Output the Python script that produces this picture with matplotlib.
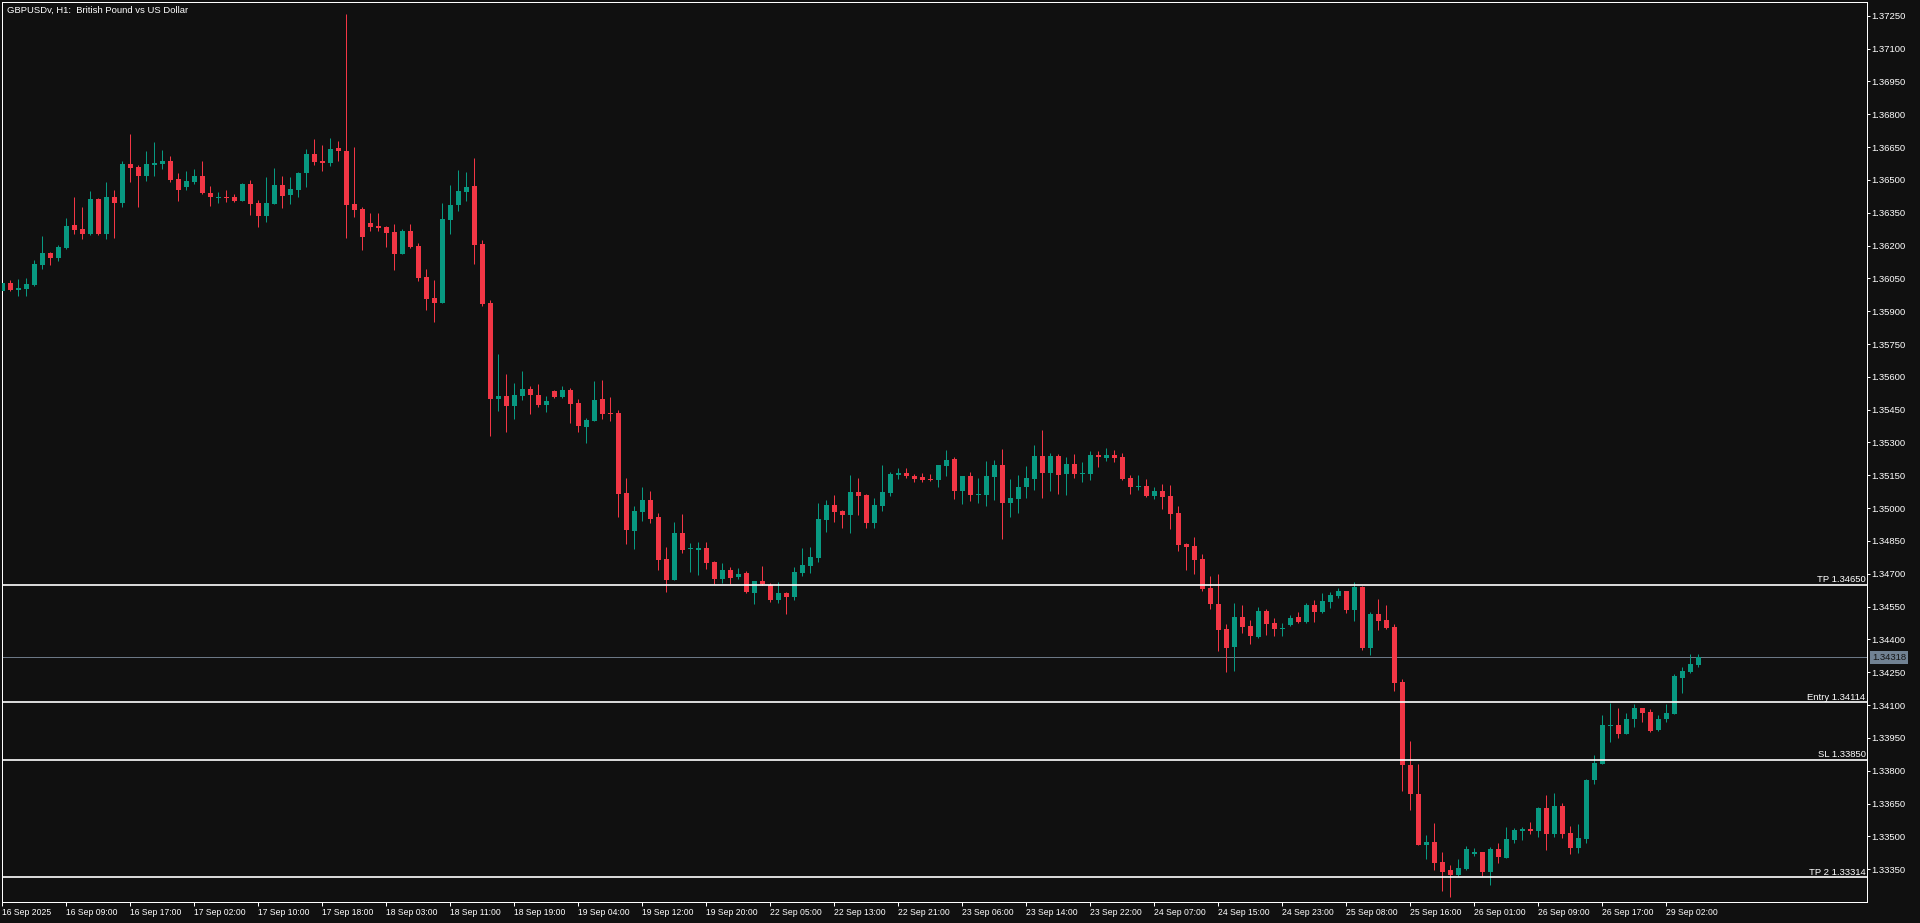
import matplotlib
matplotlib.use("Agg")
import matplotlib.pyplot as plt
import matplotlib.transforms as mtransforms
import numpy as np

# GBPUSDv H1 candles, 16 Sep 2025 -> 29 Sep 2025 06:00
title = "GBPUSDv, H1:  British Pound vs US Dollar"

opens = [
    1.35993, 1.36029, 1.35997, 1.36002, 1.36020, 1.36111, 1.36166, 1.36143, 1.36189, 1.36294,
    1.36275, 1.36253, 1.36413, 1.36253, 1.36422, 1.36394, 1.36573, 1.36559, 1.36518, 1.36568,
    1.36573, 1.36587, 1.36504, 1.36468, 1.36491, 1.36518, 1.36440, 1.36418, 1.36422, 1.36422,
    1.36403, 1.36482, 1.36394, 1.36335, 1.36390, 1.36477, 1.36431, 1.36454, 1.36532, 1.36619,
    1.36587, 1.36578, 1.36646, 1.36632, 1.36390, 1.36367, 1.36303, 1.36289, 1.36285, 1.36262,
    1.36162, 1.36266, 1.36198, 1.36057, 1.35961, 1.35937, 1.36317, 1.36385, 1.36445, 1.36472,
    1.36207, 1.35937, 1.35499, 1.35513, 1.35467, 1.35513, 1.35545, 1.35517, 1.35471, 1.35536,
    1.35508, 1.35540, 1.35480, 1.35371, 1.35398, 1.35499, 1.35435, 1.35435, 1.35069, 1.34895,
    1.34982, 1.35037, 1.34959, 1.34768, 1.34672, 1.34886, 1.34813, 1.34809, 1.34818, 1.34754,
    1.34676, 1.34718, 1.34686, 1.34704, 1.34612, 1.34667, 1.34649, 1.34580, 1.34612, 1.34594,
    1.34704, 1.34736, 1.34772, 1.34946, 1.35014, 1.34987, 1.34968, 1.35074, 1.35060, 1.34932,
    1.35010, 1.35069, 1.35152, 1.35161, 1.35147, 1.35143, 1.35133, 1.35129, 1.35193, 1.35225,
    1.35078, 1.35147, 1.35060, 1.35060, 1.35143, 1.35197, 1.35023, 1.35042, 1.35097, 1.35133,
    1.35239, 1.35161, 1.35239, 1.35156, 1.35202, 1.35156, 1.35156, 1.35243, 1.35229, 1.35243,
    1.35234, 1.35138, 1.35097, 1.35101, 1.35055, 1.35078, 1.35055, 1.34977, 1.34836, 1.34827,
    1.34768, 1.34635, 1.34562, 1.34447, 1.34365, 1.34502, 1.34461, 1.34411, 1.34530, 1.34475,
    1.34447, 1.34466, 1.34502, 1.34480, 1.34557, 1.34525, 1.34571, 1.34598, 1.34621, 1.34534,
    1.34640, 1.34361, 1.34516, 1.34489, 1.34457, 1.34205, 1.33826, 1.33694, 1.33461, 1.33475,
    1.33383, 1.33347, 1.33324, 1.33351, 1.33420, 1.33429, 1.33338, 1.33443, 1.33402, 1.33484,
    1.33525, 1.33534, 1.33525, 1.33629, 1.33511, 1.33639, 1.33516, 1.33447, 1.33488, 1.33758,
    1.33831, 1.34004, 1.34009, 1.33968, 1.34036, 1.34087, 1.34068, 1.33986, 1.34036, 1.34059,
    1.34224, 1.34251, 1.34283,
]

highs = [
    1.36038, 1.36043, 1.36047, 1.36052, 1.36134, 1.36243, 1.36171, 1.36202, 1.36326, 1.36422,
    1.36376, 1.36450, 1.36418, 1.36491, 1.36454, 1.36587, 1.36710, 1.36568, 1.36632, 1.36673,
    1.36637, 1.36610, 1.36532, 1.36541, 1.36550, 1.36587, 1.36472, 1.36445, 1.36454, 1.36436,
    1.36486, 1.36500, 1.36408, 1.36514, 1.36555, 1.36518, 1.36514, 1.36536, 1.36641, 1.36687,
    1.36659, 1.36691, 1.36678, 1.37258, 1.36650, 1.36376, 1.36349, 1.36349, 1.36289, 1.36298,
    1.36275, 1.36298, 1.36211, 1.36093, 1.36043, 1.36394, 1.36477, 1.36546, 1.36536, 1.36600,
    1.36225, 1.35951, 1.35705, 1.35613, 1.35572, 1.35627, 1.35558, 1.35568, 1.35513, 1.35540,
    1.35558, 1.35549, 1.35499, 1.35412, 1.35581, 1.35586, 1.35508, 1.35448, 1.35138, 1.35010,
    1.35097, 1.35078, 1.34977, 1.34822, 1.34936, 1.34973, 1.34841, 1.34845, 1.34845, 1.34759,
    1.34750, 1.34731, 1.34727, 1.34713, 1.34667, 1.34736, 1.34658, 1.34663, 1.34617, 1.34731,
    1.34818, 1.34822, 1.35023, 1.35037, 1.35060, 1.34991, 1.35152, 1.35138, 1.35065, 1.35046,
    1.35197, 1.35165, 1.35184, 1.35184, 1.35156, 1.35161, 1.35156, 1.35197, 1.35266, 1.35234,
    1.35147, 1.35165, 1.35138, 1.35216, 1.35220, 1.35271, 1.35133, 1.35152, 1.35193, 1.35288,
    1.35357, 1.35252, 1.35248, 1.35234, 1.35248, 1.35211, 1.35261, 1.35261, 1.35275, 1.35266,
    1.35252, 1.35152, 1.35152, 1.35133, 1.35097, 1.35110, 1.35106, 1.35010, 1.34841, 1.34868,
    1.34791, 1.34690, 1.34699, 1.34470, 1.34566, 1.34557, 1.34489, 1.34548, 1.34539, 1.34498,
    1.34475, 1.34512, 1.34525, 1.34566, 1.34580, 1.34612, 1.34617, 1.34635, 1.34621, 1.34663,
    1.34644, 1.34525, 1.34585, 1.34557, 1.34470, 1.34219, 1.33936, 1.33831, 1.33507, 1.33561,
    1.33429, 1.33370, 1.33397, 1.33456, 1.33447, 1.33429, 1.33452, 1.33470, 1.33543, 1.33538,
    1.33543, 1.33566, 1.33634, 1.33689, 1.33698, 1.33652, 1.33548, 1.33557, 1.33762, 1.33872,
    1.34055, 1.34110, 1.34087, 1.34064, 1.34105, 1.34087, 1.34082, 1.34055, 1.34105, 1.34242,
    1.34274, 1.34334, 1.34334,
]

lows = [
    1.35988, 1.35993, 1.35970, 1.35970, 1.36015, 1.36093, 1.36111, 1.36130, 1.36184, 1.36253,
    1.36230, 1.36248, 1.36248, 1.36230, 1.36234, 1.36376, 1.36491, 1.36376, 1.36495, 1.36518,
    1.36550, 1.36491, 1.36403, 1.36454, 1.36482, 1.36436, 1.36381, 1.36394, 1.36399, 1.36399,
    1.36403, 1.36339, 1.36285, 1.36307, 1.36390, 1.36371, 1.36390, 1.36422, 1.36468, 1.36568,
    1.36541, 1.36564, 1.36587, 1.36234, 1.36330, 1.36180, 1.36266, 1.36266, 1.36193, 1.36089,
    1.36162, 1.36189, 1.36038, 1.35905, 1.35850, 1.35937, 1.36253, 1.36358, 1.36403, 1.36116,
    1.35924, 1.35329, 1.35444, 1.35348, 1.35407, 1.35494, 1.35430, 1.35462, 1.35439, 1.35503,
    1.35503, 1.35389, 1.35348, 1.35297, 1.35398, 1.35407, 1.35398, 1.34959, 1.34836, 1.34813,
    1.34941, 1.34932, 1.34718, 1.34617, 1.34672, 1.34795, 1.34708, 1.34695, 1.34722, 1.34653,
    1.34658, 1.34653, 1.34676, 1.34612, 1.34562, 1.34649, 1.34571, 1.34566, 1.34516, 1.34580,
    1.34690, 1.34704, 1.34754, 1.34891, 1.34936, 1.34909, 1.34886, 1.34968, 1.34909, 1.34909,
    1.34987, 1.35055, 1.35133, 1.35138, 1.35119, 1.35119, 1.35124, 1.35097, 1.35147, 1.35042,
    1.35019, 1.35032, 1.35023, 1.35010, 1.35037, 1.34859, 1.34959, 1.34977, 1.35046, 1.35083,
    1.35046, 1.35078, 1.35065, 1.35060, 1.35138, 1.35119, 1.35129, 1.35188, 1.35216, 1.35211,
    1.35129, 1.35065, 1.35083, 1.35051, 1.35042, 1.34996, 1.34905, 1.34804, 1.34718, 1.34699,
    1.34621, 1.34539, 1.34347, 1.34252, 1.34256, 1.34429, 1.34380, 1.34407, 1.34420, 1.34416,
    1.34416, 1.34461, 1.34475, 1.34475, 1.34480, 1.34521, 1.34543, 1.34589, 1.34521, 1.34484,
    1.34352, 1.34329, 1.34443, 1.34447, 1.34165, 1.33708, 1.33620, 1.33461, 1.33397, 1.33347,
    1.33251, 1.33224, 1.33319, 1.33347, 1.33411, 1.33319, 1.33278, 1.33379, 1.33402, 1.33470,
    1.33484, 1.33511, 1.33497, 1.33438, 1.33497, 1.33493, 1.33420, 1.33424, 1.33470, 1.33740,
    1.33831, 1.33932, 1.33950, 1.33968, 1.34000, 1.34023, 1.33977, 1.33982, 1.34023, 1.34059,
    1.34155, 1.34247, 1.34274,
]

closes = [
    1.36029, 1.35997, 1.36006, 1.36025, 1.36116, 1.36166, 1.36143, 1.36193, 1.36289, 1.36271,
    1.36253, 1.36413, 1.36253, 1.36422, 1.36394, 1.36573, 1.36555, 1.36518, 1.36573, 1.36578,
    1.36587, 1.36500, 1.36454, 1.36495, 1.36518, 1.36440, 1.36422, 1.36422, 1.36418, 1.36403,
    1.36482, 1.36390, 1.36335, 1.36394, 1.36477, 1.36427, 1.36459, 1.36532, 1.36619, 1.36582,
    1.36578, 1.36641, 1.36632, 1.36385, 1.36362, 1.36239, 1.36285, 1.36280, 1.36257, 1.36162,
    1.36266, 1.36193, 1.36052, 1.35956, 1.35937, 1.36321, 1.36385, 1.36450, 1.36468, 1.36202,
    1.35933, 1.35499, 1.35513, 1.35467, 1.35517, 1.35545, 1.35517, 1.35471, 1.35489, 1.35508,
    1.35540, 1.35476, 1.35375, 1.35403, 1.35494, 1.35430, 1.35430, 1.35065, 1.34900, 1.34987,
    1.35037, 1.34950, 1.34763, 1.34672, 1.34886, 1.34809, 1.34818, 1.34818, 1.34750, 1.34676,
    1.34718, 1.34681, 1.34699, 1.34617, 1.34667, 1.34653, 1.34580, 1.34612, 1.34594, 1.34708,
    1.34740, 1.34777, 1.34950, 1.35014, 1.34982, 1.34968, 1.35074, 1.35055, 1.34932, 1.35014,
    1.35074, 1.35156, 1.35161, 1.35147, 1.35133, 1.35129, 1.35129, 1.35197, 1.35220, 1.35078,
    1.35147, 1.35060, 1.35065, 1.35147, 1.35197, 1.35023, 1.35046, 1.35097, 1.35138, 1.35239,
    1.35161, 1.35239, 1.35152, 1.35202, 1.35156, 1.35161, 1.35243, 1.35234, 1.35243, 1.35229,
    1.35133, 1.35097, 1.35101, 1.35055, 1.35078, 1.35051, 1.34973, 1.34831, 1.34822, 1.34763,
    1.34631, 1.34562, 1.34443, 1.34361, 1.34502, 1.34457, 1.34416, 1.34530, 1.34470, 1.34447,
    1.34452, 1.34498, 1.34480, 1.34557, 1.34525, 1.34576, 1.34603, 1.34621, 1.34534, 1.34640,
    1.34361, 1.34516, 1.34484, 1.34452, 1.34201, 1.33826, 1.33694, 1.33461, 1.33475, 1.33379,
    1.33338, 1.33324, 1.33356, 1.33443, 1.33429, 1.33338, 1.33443, 1.33406, 1.33488, 1.33529,
    1.33534, 1.33525, 1.33629, 1.33511, 1.33639, 1.33511, 1.33447, 1.33493, 1.33758, 1.33836,
    1.34009, 1.34009, 1.33968, 1.34036, 1.34087, 1.34064, 1.33982, 1.34036, 1.34064, 1.34233,
    1.34256, 1.34288, 1.34318,
]

# one time label every 8 bars
time_labels = [
    "16 Sep 2025", "16 Sep 09:00", "16 Sep 17:00", "17 Sep 02:00", "17 Sep 10:00",
    "17 Sep 18:00", "18 Sep 03:00", "18 Sep 11:00", "18 Sep 19:00", "19 Sep 04:00",
    "19 Sep 12:00", "19 Sep 20:00", "22 Sep 05:00", "22 Sep 13:00", "22 Sep 21:00",
    "23 Sep 06:00", "23 Sep 14:00", "23 Sep 22:00", "24 Sep 07:00", "24 Sep 15:00",
    "24 Sep 23:00", "25 Sep 08:00", "25 Sep 16:00", "26 Sep 01:00", "26 Sep 09:00",
    "26 Sep 17:00", "29 Sep 02:00",
]

level_prices = [1.34650, 1.34114, 1.33850, 1.33314]
level_names = ["TP 1.34650", "Entry 1.34114", "SL 1.33850", "TP 2 1.33314"]
last_price = 1.34318
price_ticks = [1.33350 + 0.0015 * k for k in range(27)]

BG = "#101010"
BULL = "#089981"
BEAR = "#f23645"
W, H = 1920, 923

plt.rcParams["font.family"] = ["Liberation Sans", "DejaVu Sans"]

fig = plt.figure(figsize=(W / 100, H / 100), dpi=100, facecolor=BG)
# plot area in pixels: x 2..1867, y 2..902
ax = fig.add_axes([2 / W, (H - 902) / H, 1865 / W, 900 / H], facecolor=BG)

o = np.array(opens)
h = np.array(highs)
l = np.array(lows)
c = np.array(closes)
idx = np.arange(len(o))
cols = np.where(c >= o, BULL, BEAR)

px = 0.72  # one pixel in points
ax.vlines(idx, l, h, colors=cols, linewidth=px, zorder=2)
body_low = np.minimum(o, c)
body_h = np.maximum(np.abs(c - o), 0.00004)
ax.bar(idx, body_h, bottom=body_low, width=0.62, color=cols, linewidth=0, zorder=3)

ax.set_xlim(-0.0375, -0.0375 + 1865 / 8)
ax.set_ylim(1.332005, 1.373126)

# trade levels
for p, name in zip(level_prices, level_names):
    ax.axhline(p, color="white", linewidth=1.2, zorder=4)
    ax.annotate(name, xy=(1, p), xycoords=("axes fraction", "data"),
                xytext=(-1.5, 2.5), textcoords="offset pixels",
                ha="right", va="baseline", fontsize=6.8, color="white")

# last price line + axis marker
ax.axhline(last_price, color="#6c7886", linewidth=px, zorder=1)
trans = mtransforms.blended_transform_factory(ax.transAxes, ax.transData)
ax.text(1 + 5 / 1865, last_price, f"{last_price:.5f}", transform=trans,
        ha="left", va="center", fontsize=6.8, color="#141414", clip_on=False,
        bbox=dict(boxstyle="square,pad=0.2", fc="#718293", ec="none"), zorder=6)

# axes styling
for s in ax.spines.values():
    s.set_color("white")
    s.set_linewidth(px)

ax.yaxis.tick_right()
ax.set_yticks(price_ticks)
ax.set_yticklabels([f"{t:.5f}" for t in price_ticks])
ax.tick_params(axis="y", direction="out", length=2.2, width=px, pad=1,
               labelsize=6.8, colors="white")

ax.set_xticks(idx[::8])
ax.set_xticklabels(time_labels, ha="left")
ax.tick_params(axis="x", direction="out", length=2.9, width=px, pad=1.5,
               labelsize=6.2, colors="white")

fig.text(7 / W, 1 - 12.7 / H, title, ha="left", va="baseline",
         fontsize=6.8, color="white")

fig.savefig("out.png", dpi=100, facecolor=BG)
